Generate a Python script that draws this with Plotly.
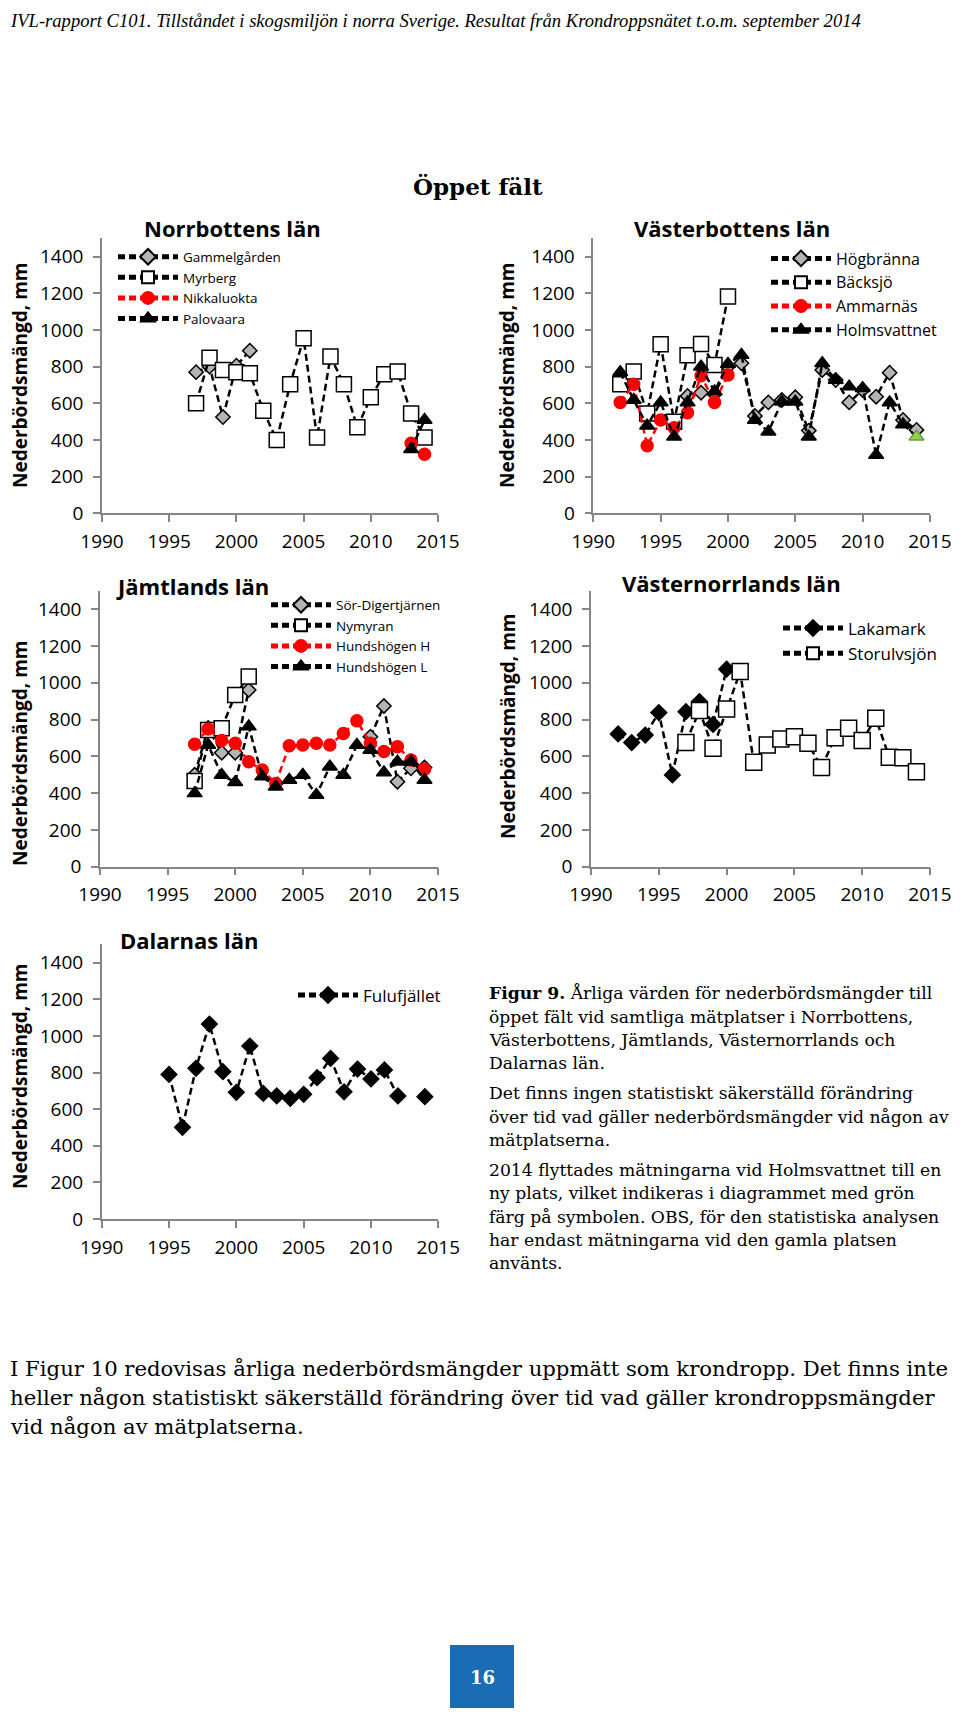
import plotly.graph_objects as go

# page is 960x1716; the html body adds an 8px margin, so the figure is 944x1700
PAGE_OFF = 8
W, H = 944, 1700
def px(x): return (x - PAGE_OFF) / W
def py(y): return 1 - (y - PAGE_OFF) / H

SANS = "Open Sans"
SERIF = "DejaVu Serif"
TIMES = "Liberation Serif"

# ---------------- data ----------------
x_ticks = [1990, 1995, 2000, 2005, 2010, 2015]
y_ticks = [0, 200, 400, 600, 800, 1000, 1200, 1400]

# Norrbottens län
years_norr = list(range(1997, 2015))
gammelgarden = [770, 800, 525, 805, 887] + [None] * 13
myrberg = [600, 849, 782, 769, 764, 560, 400, 704, 955, 413, 855, 704, 469, 633, 758, 773, 545, 413]
nikkaluokta = [None] * 16 + [382, 322]
palovaara = [None] * 16 + [349, 509]

# Västerbottens län
years_vb = list(range(1992, 2015))
hogbranna = [None] * 5 + [640, 658, 650, 800, 818, 531, 605, 618, 633, 451, 782, 727, 605, 673, 636, 767, 509, 455]
backsjo = [704, 773, 545, 922, 500, 862, 924, 809, 1182] + [None] * 14
ammarnas = [605, 704, 369, 509, 467, 549, 750, 605, 755] + [None] * 14
holmsvattnet = [769, 618, 478, 605, 418, 605, 800, 664, 815, 864, 509, 445, 609, 609, 418, 818, 727, 691, 682, 318, 605, 485, 418]
holms_new_site = [False] * 22 + [True]

# Jämtlands län
years_jt = list(range(1997, 2015))
sor_digertjarnen = [500, 755, 620, 620, 961] + [None] * 8 + [707, 874, 462, 535, 540]
nymyran = [466, 744, 753, 934, 1034] + [None] * 13
hundshogen_h = [666, 749, 686, 671, 571, 526, 453, 658, 662, 671, 662, 725, 794, 671, 626, 653, 580, 530]
hundshogen_l = [399, 662, 499, 459, 762, 490, 435, 472, 499, 390, 544, 499, 662, 635, 513, 571, 571, 472]

# Västernorrlands län
years_vn = list(range(1992, 2015))
lakamark = [722, 675, 716, 838, 499, 843, 898, 774, 1074] + [None] * 14
storulvsjon = [None] * 5 + [676, 849, 644, 858, 1061, 568, 662, 695, 707, 671, 540, 702, 753, 686, 807, 595, 593, 517]

# Dalarnas län
years_da = list(range(1995, 2015))
fulufjallet = [790, 501, 823, 1065, 805, 692, 945, 686, 672, 659, 681, 772, 877, 695, 819, 765, 814, 672, None, 668]

# ---------------- styles ----------------
GREY = "#b4b4b4"
RED = "#ff0000"
GREEN = "#92d050"
AXC = "#868686"
DASH = "7px,4px"
LW = 2.5


def series(x, y, name, symbol, size, fill, edge, lcolor, ax, legend, group=None):
    return go.Scatter(
        x=x, y=y, name=name, mode="lines+markers",
        xaxis="x" + ax, yaxis="y" + ax, legend=legend,
        legendgroup=group if group else name,
        line=dict(color=lcolor, width=LW, dash=DASH),
        marker=dict(symbol=symbol, size=size, color=fill, line=dict(color=edge, width=1.5)),
        connectgaps=False, cliponaxis=False,
    )


fig = go.Figure()
# Norrbotten (panel 1)
fig.add_trace(series(years_norr, gammelgarden, "Gammelgården", "diamond", 11, GREY, "black", "black", "", "legend"))
fig.add_trace(series(years_norr, myrberg, "Myrberg", "square", 15, "white", "black", "black", "", "legend"))
fig.add_trace(series(years_norr, nikkaluokta, "Nikkaluokta", "circle", 12, RED, RED, RED, "", "legend"))
fig.add_trace(series(years_norr, palovaara, "Palovaara", "triangle-up", 13, "black", "black", "black", "", "legend"))

# Västerbotten (panel 2)
fig.add_trace(series(years_vb, hogbranna, "Högbränna", "diamond", 11, GREY, "black", "black", "2", "legend2"))
fig.add_trace(series(years_vb, backsjo, "Bäcksjö", "square", 15, "white", "black", "black", "2", "legend2"))
fig.add_trace(series(years_vb, ammarnas, "Ammarnäs", "circle", 12, RED, RED, RED, "2", "legend2"))
holms = series(years_vb, holmsvattnet, "Holmsvattnet", "triangle-up", 13, "black", "black", "black", "2", "legend2")
holms.marker.color = [GREEN if g else "black" for g in holms_new_site]
holms.marker.line.color = ["#6e9e3c" if g else "black" for g in holms_new_site]
fig.add_trace(holms)

# Jämtland (panel 3)
fig.add_trace(series(years_jt, sor_digertjarnen, "Sör-Digertjärnen", "diamond", 11, GREY, "black", "black", "3", "legend3"))
fig.add_trace(series(years_jt, nymyran, "Nymyran", "square", 15, "white", "black", "black", "3", "legend3"))
fig.add_trace(series(years_jt, hundshogen_h, "Hundshögen H", "circle", 12, RED, RED, RED, "3", "legend3"))
fig.add_trace(series(years_jt, hundshogen_l, "Hundshögen L", "triangle-up", 13, "black", "black", "black", "3", "legend3"))

# Västernorrland (panel 4)
fig.add_trace(series(years_vn, lakamark, "Lakamark", "diamond", 12, "black", "black", "black", "4", "legend4"))
fig.add_trace(series(years_vn, storulvsjon, "Storulvsjön", "square", 16, "white", "black", "black", "4", "legend4"))

# Dalarna (panel 5)
fig.add_trace(series(years_da, fulufjallet, "Fulufjället", "diamond", 12, "black", "black", "black", "5", "legend5"))

# ---------------- axes (page pixel positions) ----------------
panels = {
    "": dict(x=(102, 438), y=(238.3, 513.3)),
    "2": dict(x=(593.3, 930), y=(238.3, 513.3)),
    "3": dict(x=(100, 438), y=(590.9, 866.7)),
    "4": dict(x=(591, 930), y=(590.9, 866.7)),
    "5": dict(x=(101.7, 438.3), y=(944.4, 1219)),
}
tickfont = dict(family=SANS, size=19, color="black")
layout_axes = {}
for k, p in panels.items():
    layout_axes["xaxis" + k] = dict(
        domain=[px(p["x"][0]), px(p["x"][1])], anchor="y" + k,
        range=[1990, 2015], tickvals=x_ticks, showgrid=False, zeroline=False,
        showline=True, linecolor=AXC, linewidth=1.5, ticks="outside", ticklen=7,
        tickcolor=AXC, tickwidth=1.5, tickfont=tickfont, ticklabelstandoff=3,
        automargin=False,
    )
    layout_axes["yaxis" + k] = dict(
        domain=[py(p["y"][1]), py(p["y"][0])], anchor="x" + k,
        range=[0, 1500], tickvals=y_ticks, showgrid=False, zeroline=False,
        showline=True, linecolor=AXC, linewidth=1.5, ticks="outside", ticklen=7,
        tickcolor=AXC, tickwidth=1.5, tickfont=tickfont, ticklabelstandoff=6,
        automargin=False,
    )


def leg(x, y, size, gap=0):
    return dict(x=px(x), y=py(y), xanchor="left", yanchor="top",
                font=dict(family=SANS, size=size, color="black"),
                bgcolor="rgba(0,0,0,0)", itemwidth=60, itemsizing="constant",
                tracegroupgap=gap, traceorder="normal")


fig.update_layout(
    width=W, height=H, margin=dict(l=0, r=0, t=0, b=0, autoexpand=False),
    paper_bgcolor="white", plot_bgcolor="white",
    showlegend=True,
    legend=leg(113, 241.5, 13.5),
    legend2=leg(766, 241.5, 16, 1),
    legend3=leg(266, 589.5, 13.5),
    legend4=leg(778, 610.5, 17, 4),
    legend5=leg(293, 977.5, 17),
    **layout_axes,
)

ann = []
def text(x, y, s, size, family, bold=False, color="black", xanchor="center", angle=0, italic=False):
    if bold:
        s = "<b>" + s + "</b>"
    if italic:
        s = "<i>" + s + "</i>"
    ann.append(dict(x=px(x), y=py(y), xref="paper", yref="paper", text=s, showarrow=False,
                    xanchor=xanchor, yanchor="middle", textangle=angle,
                    font=dict(family=family, size=size, color=color)))

# header
text(8, 20, "IVL-rapport C101. Tillståndet i skogsmiljön i norra Sverige. Resultat från Krondroppsnätet t.o.m. september 2014",
     18.6, TIMES, italic=True, xanchor="left")
text(478, 186, "Öppet fält", 23, SERIF, bold=True)

# panel titles
text(232, 228, "Norrbottens län", 22, SANS, bold=True)
text(731.7, 228, "Västerbottens län", 22, SANS, bold=True)
text(192, 585.7, "Jämtlands län", 22, SANS, bold=True)
text(731.7, 583, "Västernorrlands län", 22, SANS, bold=True)
text(189, 940, "Dalarnas län", 22, SANS, bold=True)

# y-axis titles
ytitle = "Nederbördsmängd, mm"
for (xx, yy) in [(20, 376), (507, 376), (20, 754), (508, 727), (20, 1077)]:
    text(xx, yy, ytitle, 19, SANS, bold=True, angle=-90)

# caption block
caption = [
    (993, "<b>Figur 9.</b> Årliga värden för nederbördsmängder till"),
    (1016.7, "öppet fält vid samtliga mätplatser i Norrbottens,"),
    (1040, "Västerbottens, Jämtlands, Västernorrlands och"),
    (1063, "Dalarnas län."),
    (1093, "Det finns ingen statistiskt säkerställd förändring"),
    (1117, "över tid vad gäller nederbördsmängder vid någon av"),
    (1140, "mätplatserna."),
    (1170, "2014 flyttades mätningarna vid Holmsvattnet till en"),
    (1193, "ny plats, vilket indikeras i diagrammet med grön"),
    (1217, "färg på symbolen. OBS, för den statistiska analysen"),
    (1240, "har endast mätningarna vid den gamla platsen"),
    (1263, "använts."),
]
for yy, s in caption:
    text(487, yy, s, 17.2, SERIF, xanchor="left")

body = [
    (1368, "I Figur 10 redovisas årliga nederbördsmängder uppmätt som krondropp. Det finns inte"),
    (1397, "heller någon statistiskt säkerställd förändring över tid vad gäller krondroppsmängder"),
    (1426, "vid någon av mätplatserna."),
]
for yy, s in body:
    text(8, yy, s, 21.2, SERIF, xanchor="left")

# page number box
fig.add_shape(type="rect", xref="paper", yref="paper",
              x0=px(450), x1=px(514), y0=py(1709), y1=py(1645),
              fillcolor="#1a6db5", line=dict(width=0))
text(482, 1677, "16", 18, SERIF, bold=True, color="white")

fig.update_layout(annotations=ann)
fig.write_html("out.html")
